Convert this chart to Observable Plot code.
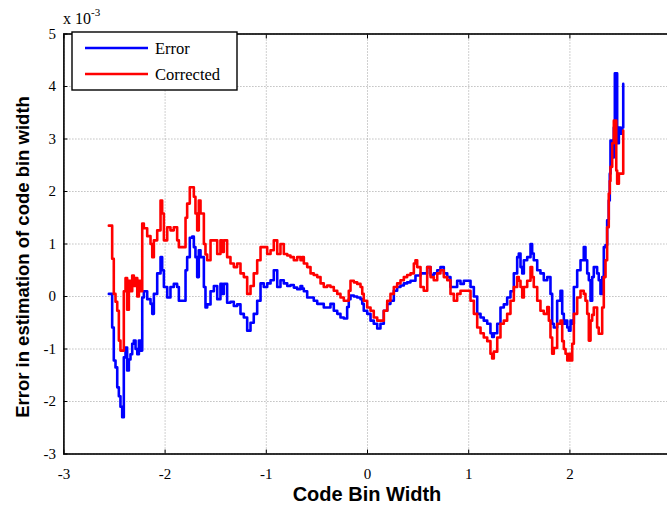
<!DOCTYPE html>
<html><head><meta charset="utf-8">
<script src="https://cdn.jsdelivr.net/npm/d3@7"></script>
<script src="https://cdn.jsdelivr.net/npm/@observablehq/plot@0.6"></script>
<style>html,body{margin:0;padding:0;background:#fff;} svg{display:block;}</style>
</head><body><div id="chart"></div>
<script>
const codeBin = [-2.556,-2.540,-2.523,-2.507,-2.490,-2.473,-2.457,-2.441,-2.424,-2.408,-2.391,-2.375,-2.358,-2.342,-2.325,-2.309,-2.292,-2.275,-2.259,-2.243,-2.226,-2.210,-2.177,-2.144,-2.127,-2.111,-2.078,-2.045,-2.029,-2.012,-1.979,-1.947,-1.914,-1.881,-1.864,-1.815,-1.798,-1.782,-1.756,-1.732,-1.716,-1.700,-1.683,-1.667,-1.650,-1.617,-1.601,-1.584,-1.551,-1.518,-1.485,-1.453,-1.436,-1.420,-1.387,-1.354,-1.321,-1.288,-1.255,-1.222,-1.189,-1.156,-1.124,-1.090,-1.057,-1.025,-0.991,-0.958,-0.926,-0.892,-0.860,-0.827,-0.793,-0.761,-0.728,-0.695,-0.662,-0.645,-0.629,-0.596,-0.563,-0.531,-0.497,-0.464,-0.432,-0.398,-0.366,-0.333,-0.299,-0.267,-0.234,-0.201,-0.185,-0.168,-0.135,-0.102,-0.069,-0.052,-0.037,-0.003,0.030,0.062,0.096,0.128,0.161,0.195,0.227,0.260,0.293,0.326,0.359,0.392,0.425,0.458,0.474,0.491,0.524,0.556,0.590,0.623,0.655,0.689,0.721,0.754,0.788,0.820,0.853,0.886,0.919,0.952,0.985,1.018,1.051,1.084,1.117,1.149,1.183,1.215,1.232,1.248,1.282,1.314,1.347,1.380,1.413,1.446,1.479,1.495,1.512,1.529,1.545,1.578,1.611,1.627,1.643,1.677,1.709,1.742,1.776,1.792,1.808,1.825,1.841,1.874,1.907,1.924,1.940,1.957,1.974,1.990,2.006,2.023,2.039,2.072,2.105,2.137,2.154,2.171,2.187,2.204,2.220,2.236,2.269,2.285,2.302,2.319,2.335,2.352,2.368,2.384,2.394,2.401,2.418,2.434,2.444,2.458,2.467,2.484,2.500,2.516,2.527];
const errorVals = [0.05,0.05,-0.59,-1.22,-1.35,-1.73,-1.90,-2.10,-2.30,-1.16,-0.97,-1.41,-1.20,-1.10,-0.90,-0.84,-1.00,-1.10,-0.84,-1.03,-0.02,0.10,-0.05,-0.14,-0.33,0.05,0.44,0.75,0.50,0.18,-0.02,0.18,0.24,0.18,-0.08,-0.08,0.50,0.75,1.12,1.14,0.94,0.75,0.37,0.88,0.75,0.18,-0.21,-0.15,0.10,0.20,-0.05,0.24,0.05,0.24,-0.12,-0.10,-0.18,-0.15,-0.33,-0.40,-0.65,-0.50,-0.33,-0.08,0.25,0.18,0.25,0.31,0.50,0.18,0.31,0.25,0.20,0.22,0.17,0.14,0.20,0.15,0.10,-0.02,-0.02,-0.08,-0.14,-0.14,-0.21,-0.21,-0.14,-0.27,-0.33,-0.40,-0.42,-0.20,-0.05,0.02,0.00,-0.02,-0.05,-0.14,-0.27,-0.33,-0.46,-0.52,-0.61,-0.52,-0.27,-0.14,-0.08,0.11,0.18,0.21,0.25,0.27,0.30,0.30,0.40,0.40,0.44,0.44,0.56,0.41,0.44,0.50,0.56,0.44,0.37,0.18,0.18,0.30,0.24,0.30,0.30,0.18,0.00,-0.33,-0.40,-0.46,-0.52,-0.70,-0.77,-0.70,-0.52,-0.21,-0.15,-0.02,0.10,0.44,0.75,0.82,0.56,0.44,0.69,0.75,1.00,0.82,0.69,0.50,0.44,0.31,0.37,0.37,0.05,-0.52,-0.59,-0.08,0.11,-0.33,-0.52,-0.46,-0.59,-0.65,-0.46,-0.52,0.18,0.50,0.69,0.94,0.69,0.44,0.31,-0.08,0.37,0.56,0.44,0.31,0.05,0.37,0.94,0.98,1.45,1.83,2.34,2.97,2.65,3.22,4.25,4.25,2.92,3.22,3.10,3.22,4.05];
const correctedVals = [1.35,1.35,0.72,0.05,-0.10,-0.27,-0.84,-1.03,-1.03,0.10,0.35,-0.25,0.30,0.10,0.40,0.20,0.35,0.00,0.30,0.10,1.39,1.30,1.15,1.00,0.75,1.07,1.26,1.83,1.58,1.07,1.32,1.26,1.32,1.07,0.94,0.94,1.50,1.77,2.08,2.08,1.90,1.58,1.26,1.83,1.58,1.00,0.80,0.69,1.07,1.07,0.81,1.07,0.85,1.07,0.75,0.63,0.56,0.63,0.44,0.37,0.05,0.20,0.44,0.69,0.94,0.94,0.81,0.88,1.07,0.81,1.00,0.81,0.78,0.75,0.69,0.75,0.69,0.75,0.63,0.56,0.44,0.41,0.37,0.25,0.18,0.21,0.18,0.11,0.05,-0.02,-0.08,-0.08,0.11,0.30,0.27,0.24,0.18,0.05,-0.08,-0.21,-0.27,-0.40,-0.46,-0.46,-0.27,-0.08,0.05,0.18,0.25,0.31,0.37,0.41,0.44,0.63,0.69,0.56,0.18,0.11,0.56,0.37,0.31,0.44,0.50,0.37,0.31,0.05,-0.08,0.05,0.11,0.11,0.11,-0.08,-0.33,-0.59,-0.70,-0.78,-0.85,-1.09,-1.18,-1.05,-0.78,-0.52,-0.46,-0.33,-0.08,0.18,0.37,0.30,0.18,-0.02,0.18,0.30,0.56,0.37,0.18,-0.08,-0.27,-0.33,-0.20,-0.46,-0.78,-1.09,-0.98,-0.52,-0.46,-0.85,-1.00,-1.09,-1.22,-1.09,-1.22,-0.90,-0.33,-0.02,0.11,0.05,-0.08,-0.33,-0.84,-0.46,-0.35,-0.21,-0.59,-0.71,-0.71,-0.21,0.37,0.69,1.32,1.96,2.20,2.47,2.92,3.35,3.35,2.40,2.15,2.34,2.34,2.34,3.16];
const xTicks = [-3, -2, -1, 0, 1, 2, 3];
const yTicks = [-3, -2, -1, 0, 1, 2, 3, 4, 5];
const seriesNames = ["Error", "Corrected"];
const seriesColors = ["#0000ff", "#ff0000"];
const xLabel = "Code Bin Width";
const yLabel = "Error in estimation of code bin width";

const serif = "'Liberation Serif', 'Times New Roman', serif";
const sans = "'Liberation Sans', Arial, sans-serif";
const fmt = d => String(d);

const chart = Plot.plot({
  width: 667,
  height: 506,
  marginLeft: 63.4,
  marginRight: -3.6,
  marginTop: 33.5,
  marginBottom: 52.5,
  style: {background: "#fff", fontFamily: serif, fontSize: "15px", color: "#000"},
  x: {domain: [-3, 3]},
  y: {domain: [-3, 5]},
  marks: [
    Plot.gridX(xTicks, {stroke: "#8a8a8a", strokeOpacity: 0.8, strokeDasharray: "1,2"}),
    Plot.gridY(yTicks, {stroke: "#8a8a8a", strokeOpacity: 0.8, strokeDasharray: "1,2"}),
    Plot.line(codeBin, {x: d => d, y: (d, i) => errorVals[i], stroke: seriesColors[0], strokeWidth: 2.6, curve: "step-after"}),
    Plot.line(codeBin, {x: d => d, y: (d, i) => correctedVals[i], stroke: seriesColors[1], strokeWidth: 2.6, curve: "step-after"}),
    Plot.frame({stroke: "#000", strokeWidth: 1.6}),
    Plot.axisX(xTicks, {anchor: "bottom", tickSize: -4, tickPadding: 18, tickFormat: fmt, label: null, fontSize: 15, fontFamily: serif}),
    Plot.axisX(xTicks, {anchor: "top", tickSize: -4, tickFormat: () => "", label: null}),
    Plot.axisY(yTicks, {anchor: "left", tickSize: -4, tickPadding: 12, tickFormat: fmt, label: null, fontSize: 15, fontFamily: serif}),
    Plot.axisY(yTicks, {anchor: "right", tickSize: -4, tickFormat: () => "", label: null})
  ]
});

const svg = d3.select(chart);
// exponent annotation
const ex = svg.append("text").attr("x", 63).attr("y", 24).attr("text-anchor", "start")
  .attr("font-family", serif).attr("font-size", 16).attr("fill", "#000");
ex.append("tspan").text("x 10");
ex.append("tspan").attr("font-size", 11).attr("dy", -8).text("-3");

// axis labels
svg.append("text").attr("x", 367).attr("y", 501)
  .attr("text-anchor", "middle").attr("font-family", sans).attr("font-weight", "bold")
  .attr("font-size", 20).attr("fill", "#000").text(xLabel);
svg.append("text").attr("transform", "translate(29,257) rotate(-90)")
  .attr("text-anchor", "middle").attr("font-family", sans).attr("font-weight", "bold")
  .attr("font-size", 18.5).attr("fill", "#000").text(yLabel);

// legend
const lg = svg.append("g");
lg.append("rect").attr("x", 72).attr("y", 32).attr("width", 165).attr("height", 58)
  .attr("fill", "#fff").attr("stroke", "#000").attr("stroke-width", 1.4);
seriesNames.forEach((name, i) => {
  const yy = 48 + i * 26;
  lg.append("line").attr("x1", 85).attr("x2", 148).attr("y1", yy).attr("y2", yy)
    .attr("stroke", seriesColors[i]).attr("stroke-width", 2.4);
  lg.append("text").attr("x", 155).attr("y", yy + 6).attr("text-anchor", "start")
    .attr("font-family", serif).attr("font-size", 16.5).attr("fill", "#000").text(name);
});

document.getElementById("chart").appendChild(chart);
</script>
</body></html>
